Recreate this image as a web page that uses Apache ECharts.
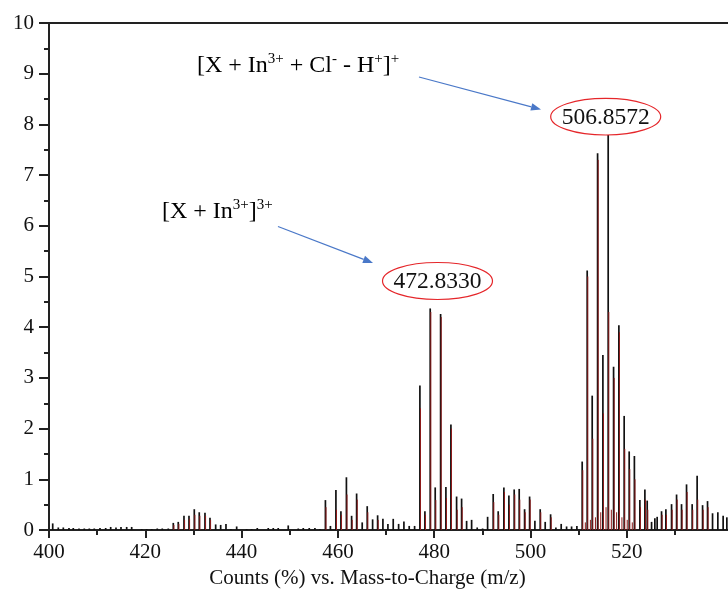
<!DOCTYPE html>
<html>
<head>
<meta charset="utf-8">
<script src="https://cdn.jsdelivr.net/npm/echarts@6/dist/echarts.min.js"></script>
<style>html,body{margin:0;padding:0;background:#fff}#c{width:728px;height:593px}</style>
</head>
<body>
<div id="c"></div>
<script>
// ---- data ----
const mz = [400.77,401.93,402.97,404.15,405.04,406.23,407.33,408.37,409.40,410.59,411.77,412.81,413.91,414.95,416.13,417.17,419.25,420.28,421.32,422.48,423.52,424.77,425.81,426.84,428.03,429.07,430.17,431.20,432.39,433.43,434.61,435.65,436.75,437.78,438.97,441.04,442.08,443.25,445.53,446.57,447.60,449.68,451.76,452.80,454.04,455.22,456.26,457.40,458.44,459.58,460.62,461.76,462.84,463.88,465.04,466.08,467.20,468.24,469.34,470.38,471.48,472.60,473.70,474.80,475.92,477.02,478.06,479.16,480.20,481.32,482.42,483.46,484.64,485.68,486.72,487.76,488.92,490.04,491.08,492.24,493.28,494.46,495.50,496.60,497.64,498.76,499.80,500.90,502.00,503.04,504.16,505.26,506.36,507.48,508.52,509.62,510.72,511.76,512.80,513.92,515.02,516.12,517.24,518.34,519.44,520.48,521.56,522.70,523.74,524.22,525.13,525.81,526.29,527.20,528.10,529.28,530.32,531.35,532.39,533.56,534.59,535.72,536.75,537.79,538.89,539.99,540.76];
const counts = [0.13,0.05,0.05,0.04,0.04,0.03,0.03,0.03,0.03,0.04,0.04,0.06,0.05,0.06,0.06,0.06,0.02,0.02,0.02,0.03,0.03,0.03,0.14,0.16,0.28,0.28,0.41,0.35,0.34,0.24,0.11,0.10,0.12,0.02,0.07,0.02,0.02,0.04,0.04,0.04,0.04,0.09,0.03,0.04,0.04,0.04,0.02,0.59,0.08,0.79,0.37,1.04,0.28,0.72,0.15,0.47,0.21,0.29,0.22,0.12,0.22,0.12,0.17,0.08,0.08,2.85,0.37,4.37,0.84,4.26,0.85,2.08,0.66,0.62,0.18,0.20,0.05,0.03,0.26,0.71,0.37,0.84,0.68,0.80,0.81,0.41,0.66,0.18,0.41,0.16,0.31,0.05,0.12,0.07,0.07,0.08,1.35,5.12,2.65,7.43,3.45,7.79,3.22,4.04,2.25,1.55,1.46,0.59,0.80,0.58,0.16,0.23,0.26,0.37,0.41,0.51,0.70,0.51,0.90,0.51,1.07,0.49,0.57,0.33,0.35,0.28,0.25];
const redMz = [425.81,426.84,428.03,429.07,430.17,431.20,432.39,433.43,457.40,459.58,460.62,461.76,462.84,463.88,466.08,468.24,477.02,478.06,479.16,480.20,481.32,482.42,483.46,484.64,485.68,492.24,493.28,494.46,495.50,496.60,497.64,498.76,499.80,502.00,504.16,510.72,511.76,512.80,513.92,515.02,516.12,517.24,518.34,519.44,520.48,521.56,511.25,512.30,513.35,514.45,515.55,516.65,517.75,518.85,519.95,521.00,522.70,523.74,524.22,527.20,528.10,529.28,530.32,531.35,532.39,533.56,534.59,535.72,536.75];
const redCounts = [0.10,0.12,0.20,0.22,0.30,0.28,0.28,0.20,0.45,0.40,0.30,0.70,0.20,0.60,0.35,0.20,2.40,0.30,4.30,0.59,4.20,0.63,2.00,0.40,0.45,0.55,0.30,0.75,0.50,0.70,0.60,0.35,0.60,0.35,0.25,1.18,5.00,1.80,7.30,2.30,4.30,3.00,3.90,1.60,1.20,1.00,0.15,0.20,0.25,0.35,0.45,0.40,0.35,0.25,0.20,0.15,0.45,0.60,0.40,0.30,0.30,0.40,0.60,0.40,0.75,0.40,0.60,0.40,0.45];
const xMajorTicks = [400,420,440,460,480,500,520];
const xMinorTicks = [410,430,450,470,490,510,530];
const xTitle = 'Counts (%) vs. Mass-to-Charge (m/z)';
const peakLabels = ['506.8572','472.8330'];

const FF = "'Liberation Serif','Times New Roman',serif";
const AX = '#222';
const chart = echarts.init(document.getElementById('c'), null, {renderer:'canvas'});

function stick(color, width, off){
  return function(params, api){
    const x = api.value(0), y = api.value(1);
    const p0 = api.coord([x,0]), p1 = api.coord([x,y]);
    return {type:'line', shape:{x1:p0[0]+off,y1:p0[1],x2:p1[0]+off,y2:p1[1]}, style:{stroke:color, lineWidth:width}};
  };
}
function arrow(sx,sy,ex,ey){
  const dx=ex-sx, dy=ey-sy, L=Math.hypot(dx,dy), ux=dx/L, uy=dy/L;
  const hl=10, hw=3.8;
  const bx=ex-ux*hl, by=ey-uy*hl;
  return [
    {type:'line', shape:{x1:sx,y1:sy,x2:bx,y2:by}, style:{stroke:'#4a78c8', lineWidth:1.2}},
    {type:'polygon', shape:{points:[[ex,ey],[bx-uy*hw,by+ux*hw],[bx+uy*hw,by-ux*hw]]}, style:{fill:'#4a78c8'}}
  ];
}
const rich = {
  n:{fontSize:24, fontFamily:FF, color:'#111', lineHeight:28},
  s:{fontSize:15, fontFamily:FF, color:'#111', lineHeight:19, verticalAlign:'top'}
};

chart.setOption({
  animation:false,
  grid:{left:49, right:0, top:23, bottom:63},
  xAxis:[
    {type:'value', min:400, max:541, position:'bottom',
     axisLine:{show:true, lineStyle:{color:AX, width:2}},
     axisTick:{show:true, customValues:xMajorTicks, length:8, lineStyle:{color:AX, width:2}},
     axisLabel:{show:true, customValues:xMajorTicks, margin:12, fontSize:21, fontFamily:FF, color:'#111'},
     splitLine:{show:false}},
    {type:'value', min:400, max:541, position:'bottom',
     axisLine:{show:false},
     axisTick:{show:true, customValues:xMinorTicks, length:5, lineStyle:{color:AX, width:2}},
     axisLabel:{show:false}, splitLine:{show:false}},
    {type:'value', min:400, max:541, position:'top',
     axisLine:{show:true, lineStyle:{color:AX, width:2}},
     axisTick:{show:false}, axisLabel:{show:false}, splitLine:{show:false}}
  ],
  yAxis:{type:'value', min:0, max:10, interval:1,
    axisLine:{show:true, lineStyle:{color:AX, width:2}},
    axisTick:{show:true, length:10, lineStyle:{color:AX, width:2}},
    minorTick:{show:true, splitNumber:2, length:5, lineStyle:{color:AX, width:2}},
    axisLabel:{margin:15, fontSize:21, fontFamily:FF, color:'#111'},
    splitLine:{show:false}},
  series:[
    {type:'custom', clip:true, xAxisIndex:0, renderItem:stick('#111',1.7,0), encode:{x:0,y:1},
     data: mz.map((m,i)=>[m,counts[i]])},
    {type:'custom', clip:true, xAxisIndex:0, renderItem:stick('#8e1b1b',1.0,0.6), encode:{x:0,y:1},
     data: redMz.map((m,i)=>[m,redCounts[i]])}
  ],
  graphic:[
    ...arrow(419,77,541,109.5),
    ...arrow(278,226.5,373,263),
    {type:'ellipse', shape:{cx:605.7, cy:116.7, rx:55, ry:18.3}, style:{fill:'#fff', stroke:'#e5262a', lineWidth:1.2}, z:10},
    {type:'text', z:11, style:{x:605.7, y:117.5, text:peakLabels[0], fontSize:23.5, fontFamily:FF, fill:'#111', align:'center', verticalAlign:'middle'}},
    {type:'ellipse', shape:{cx:437.5, cy:281, rx:55, ry:18.5}, style:{fill:'#fff', stroke:'#e5262a', lineWidth:1.2}, z:10},
    {type:'text', z:11, style:{x:437.5, y:282, text:peakLabels[1], fontSize:23.5, fontFamily:FF, fill:'#111', align:'center', verticalAlign:'middle'}},
    {type:'text', z:11, style:{x:197, y:66, text:'{n|[X + In}{s|3+}{n| + Cl}{s|-}{n| - H}{s|+}{n|]}{s|+}', rich:rich, align:'left', verticalAlign:'middle'}},
    {type:'text', z:11, style:{x:162, y:212, text:'{n|[X + In}{s|3+}{n|]}{s|3+}', rich:rich, align:'left', verticalAlign:'middle'}},
    {type:'text', z:11, style:{x:367.5, y:578, text:xTitle, fontSize:21, fontFamily:FF, fill:'#111', align:'center', verticalAlign:'middle'}}
  ]
});
</script>
</body>
</html>
